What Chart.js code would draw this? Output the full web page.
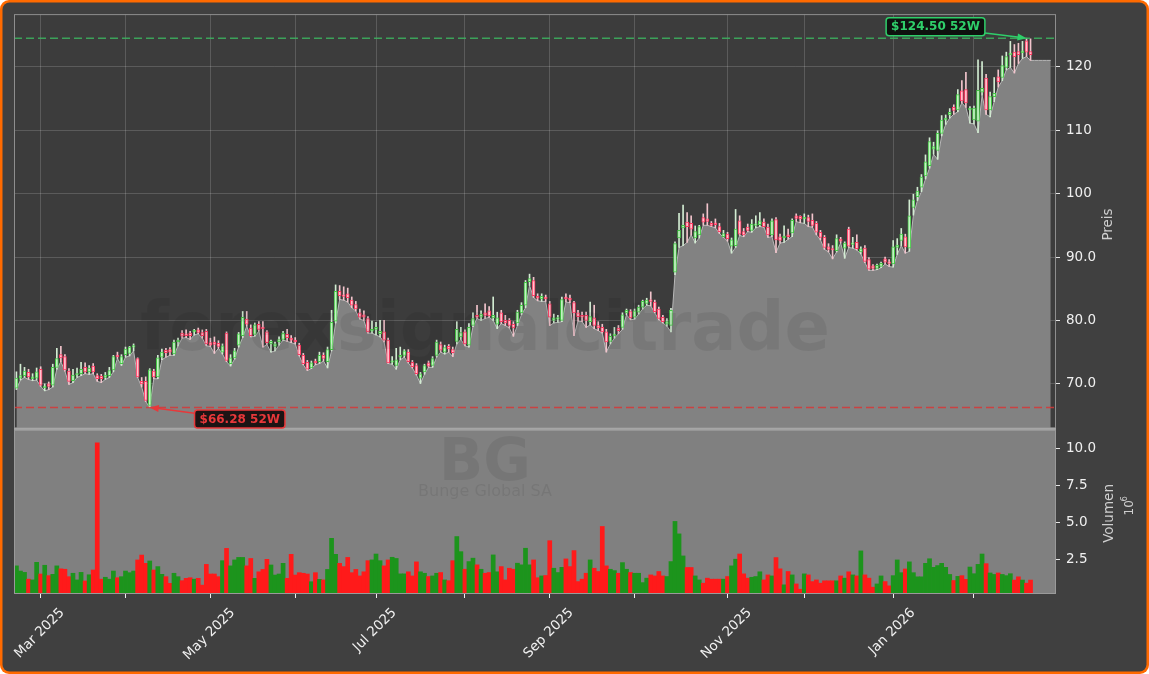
<!DOCTYPE html>
<html>
<head>
<meta charset="utf-8">
<title>BG - Bunge Global SA</title>
<script src="https://cdn.jsdelivr.net/npm/chart.js@4.4.1/dist/chart.umd.min.js"></script>
<style>
  html, body { margin: 0; padding: 0; background: #ffffff; }
  #wrap { width: 1149px; height: 674px; }
</style>
</head>
<body>
<div id="wrap"><canvas id="chart" width="1149" height="674"></canvas></div>
<script>
// daily candles, 21 Feb 2025 .. 23 Feb 2026 (x = trading day index)
const opens = [
  69.3, 70.9, 71.3, 71.8, 70.8, 70.9, 72.3, 69.4, 70.0, 69.8, 72.6, 74.6,
  74.3, 72.0, 70.5, 71.4, 71.6, 72.6, 71.9, 72.8, 71.3, 71.2, 71.0, 71.3,
  72.2, 74.5, 73.2, 74.6, 74.8, 75.8, 74.0, 70.4, 70.4, 66.6, 72.0, 71.1,
  74.2, 75.3, 75.4, 74.7, 76.6, 78.0, 77.9, 78.0, 78.2, 78.5, 78.1, 78.3,
  76.5, 76.6, 76.4, 75.0, 78.0, 73.2, 74.1, 76.1, 77.6, 80.2, 78.8, 77.8,
  79.4, 78.9, 78.2, 76.3, 75.9, 76.6, 77.0, 77.8, 77.2, 76.9, 76.1, 74.5,
  73.4, 72.5, 73.6, 73.5, 74.5, 73.5, 75.4, 79.9, 84.6, 84.0, 84.2, 83.2,
  82.5, 81.2, 80.9, 80.3, 78.3, 78.6, 77.9, 78.2, 76.9, 73.4, 72.9, 74.2,
  74.5, 75.0, 73.4, 72.9, 70.9, 71.9, 73.3, 72.9, 74.5, 76.2, 75.0, 75.9,
  75.4, 76.7, 77.4, 78.2, 76.1, 79.2, 80.8, 80.5, 81.2, 81.5, 80.4, 79.4,
  81.2, 80.0, 80.0, 79.4, 79.6, 81.2, 82.4, 86.1, 86.3, 83.8, 83.4, 83.7,
  82.6, 80.0, 80.2, 80.0, 83.7, 83.5, 82.8, 81.2, 80.8, 80.8, 79.8, 80.4,
  79.2, 78.9, 78.2, 76.7, 77.6, 78.8, 78.9, 81.2, 81.4, 80.5, 81.3, 82.1,
  82.7, 83.1, 82.9, 81.8, 80.5, 79.4, 79.2, 87.6, 93.0, 94.6, 95.5, 95.3,
  93.0, 93.5, 96.2, 96.0, 95.3, 95.4, 94.8, 93.2, 93.6, 91.7, 91.8, 95.7,
  94.0, 94.7, 94.2, 95.0, 95.1, 95.5, 94.7, 93.5, 95.9, 93.2, 93.0, 93.5,
  93.8, 96.5, 96.4, 96.0, 96.2, 95.8, 95.3, 93.9, 93.1, 91.6, 91.3, 91.0,
  92.8, 91.4, 94.4, 92.0, 92.3, 90.8, 91.4, 89.6, 88.6, 88.2, 88.5, 89.7,
  89.2, 88.9, 91.5, 92.6, 93.2, 91.4, 97.8, 99.5, 101.0, 102.8, 104.4, 107.0,
  106.8, 109.5, 111.6, 112.4, 113.6, 113.2, 116.2, 116.4, 113.2, 111.6, 111.4, 116.0,
  118.2, 113.2, 115.3, 118.4, 118.3, 119.9, 121.9, 122.3, 122.4, 122.2, 124.1, 122.4
];
const highs = [
  71.9, 73.1, 72.6, 72.3, 71.6, 72.5, 72.7, 70.0, 70.3, 73.1, 75.6, 75.9,
  74.6, 72.4, 72.3, 72.5, 73.4, 73.3, 72.9, 73.2, 71.6, 71.5, 71.8, 72.6,
  74.5, 75.0, 74.6, 75.8, 75.9, 76.3, 74.1, 71.0, 71.1, 72.4, 72.3, 74.5,
  75.5, 75.6, 75.7, 76.9, 77.2, 78.4, 78.5, 78.3, 78.6, 78.8, 78.5, 78.6,
  77.2, 77.4, 76.8, 76.3, 78.2, 74.6, 75.6, 78.1, 81.4, 81.4, 79.3, 79.6,
  79.8, 79.8, 78.4, 76.9, 76.6, 77.4, 78.3, 78.6, 77.6, 77.3, 76.4, 74.8,
  73.7, 73.6, 73.9, 75.0, 74.9, 75.8, 81.6, 85.6, 85.5, 85.3, 85.1, 83.7,
  83.0, 81.8, 81.5, 80.6, 79.9, 79.7, 80.0, 80.0, 77.2, 74.3, 75.6, 75.8,
  75.4, 75.4, 73.7, 73.2, 71.8, 73.1, 73.6, 74.3, 76.9, 76.6, 76.1, 76.2,
  75.8, 79.8, 78.9, 78.5, 79.5, 81.2, 82.4, 81.5, 82.6, 82.2, 83.7, 81.3,
  81.6, 80.8, 80.3, 79.8, 81.6, 82.8, 86.3, 87.3, 86.8, 84.2, 84.2, 84.0,
  83.0, 81.0, 80.8, 83.7, 84.2, 84.0, 83.0, 81.6, 81.3, 81.3, 82.9, 82.4,
  79.8, 79.4, 78.6, 77.9, 78.9, 79.2, 81.2, 81.8, 81.7, 81.8, 82.4, 83.2,
  83.5, 84.5, 83.2, 82.1, 80.8, 80.3, 81.9, 92.4, 96.9, 98.2, 97.0, 96.5,
  94.9, 95.0, 96.8, 98.4, 95.6, 96.0, 95.3, 94.2, 93.9, 93.0, 97.5, 96.5,
  94.5, 95.2, 95.9, 96.5, 97.0, 96.0, 95.2, 96.0, 96.2, 93.6, 94.9, 94.4,
  96.0, 96.8, 96.5, 96.8, 96.6, 96.8, 95.6, 94.2, 93.4, 92.1, 91.8, 93.5,
  93.1, 92.4, 94.7, 93.1, 93.5, 91.6, 91.8, 89.9, 88.8, 88.9, 89.2, 90.0,
  89.6, 92.6, 92.9, 94.5, 93.6, 99.0, 99.9, 101.0, 103.0, 106.1, 108.8, 108.1,
  109.9, 112.3, 112.4, 113.4, 114.0, 116.4, 117.8, 119.1, 113.7, 113.8, 121.1, 120.8,
  118.8, 116.0, 118.3, 119.5, 121.7, 122.3, 124.0, 123.5, 123.7, 124.0, 124.5, 124.4
];
const lows = [
  69.1, 70.6, 71.0, 70.7, 70.5, 70.6, 69.6, 68.9, 69.1, 69.5, 72.3, 73.5,
  72.0, 69.9, 70.2, 71.0, 71.3, 71.6, 71.5, 71.6, 70.4, 70.2, 70.7, 71.0,
  71.9, 74.0, 72.9, 74.2, 74.4, 75.2, 71.0, 69.5, 67.2, 66.28, 70.8, 70.8,
  73.8, 74.2, 74.5, 74.5, 76.0, 77.2, 77.3, 77.0, 77.7, 77.9, 77.2, 76.0,
  75.9, 74.8, 75.6, 74.7, 73.5, 72.8, 73.9, 75.8, 77.3, 79.1, 77.4, 77.5,
  78.3, 75.8, 76.2, 75.0, 75.2, 76.1, 76.9, 76.7, 76.5, 76.3, 74.4, 73.0,
  72.1, 72.4, 73.0, 73.2, 73.6, 72.5, 75.2, 79.6, 83.3, 83.2, 82.9, 82.0,
  81.5, 80.2, 80.0, 78.0, 78.0, 77.7, 77.4, 76.6, 73.2, 73.1, 72.3, 73.8,
  74.2, 73.3, 72.5, 71.4, 70.05, 71.5, 72.6, 72.6, 74.2, 75.0, 74.7, 75.0,
  74.3, 76.3, 77.0, 76.0, 75.8, 79.0, 80.3, 80.0, 80.3, 80.5, 80.0, 78.7,
  79.5, 79.2, 78.8, 77.5, 79.2, 80.9, 82.0, 85.5, 83.6, 83.1, 83.0, 83.0,
  79.2, 79.6, 79.7, 79.8, 82.9, 82.8, 77.6, 79.9, 79.8, 78.9, 79.3, 78.7,
  78.4, 78.0, 75.0, 76.3, 77.2, 77.9, 78.6, 80.9, 80.1, 80.2, 81.0, 81.8,
  82.4, 82.3, 81.2, 80.1, 79.6, 79.1, 78.2, 87.2, 91.5, 91.8, 92.3, 93.5,
  92.2, 93.0, 95.0, 95.0, 94.8, 94.6, 93.7, 93.1, 92.5, 90.6, 91.5, 93.4,
  93.2, 94.0, 93.9, 94.6, 94.8, 94.7, 93.1, 93.2, 90.7, 92.2, 92.3, 92.8,
  93.2, 95.6, 95.4, 95.3, 94.8, 94.7, 93.5, 92.7, 91.2, 90.8, 89.7, 90.8,
  92.2, 89.8, 91.5, 91.4, 91.1, 90.5, 89.1, 87.9, 87.9, 88.0, 88.3, 88.9,
  88.5, 88.4, 90.4, 91.8, 90.6, 90.9, 96.6, 98.9, 100.3, 102.3, 104.0, 106.2,
  105.4, 109.1, 110.9, 111.9, 112.5, 112.9, 114.3, 113.6, 111.1, 111.0, 109.6, 115.5,
  112.5, 112.1, 114.5, 116.8, 117.8, 119.5, 119.9, 119.0, 120.5, 121.3, 121.6, 121.0
];
const closes = [
  70.9, 71.3, 72.0, 71.1, 71.1, 71.9, 69.8, 69.6, 69.6, 72.6, 74.0, 74.1,
  72.2, 70.4, 71.4, 71.6, 72.3, 71.9, 72.5, 71.9, 70.8, 70.8, 71.4, 72.1,
  74.3, 74.3, 74.3, 75.5, 75.8, 76.0, 71.1, 70.0, 67.4, 72.2, 71.1, 74.1,
  75.0, 74.9, 75.0, 76.6, 76.9, 77.5, 77.6, 77.6, 78.4, 78.1, 77.6, 76.3,
  76.1, 76.2, 75.9, 76.0, 73.7, 74.1, 75.2, 77.9, 80.5, 79.4, 77.6, 79.3,
  78.6, 78.7, 76.5, 76.7, 76.3, 77.0, 78.0, 77.3, 76.9, 76.6, 74.6, 73.2,
  72.3, 73.3, 73.3, 74.5, 74.0, 75.4, 79.7, 84.6, 83.9, 83.8, 83.6, 82.4,
  81.8, 80.5, 80.5, 78.2, 78.6, 78.9, 78.3, 76.9, 73.3, 73.6, 73.8, 74.5,
  75.2, 73.5, 72.7, 71.6, 71.6, 72.9, 72.8, 74.0, 76.6, 75.3, 75.7, 75.5,
  74.9, 78.6, 78.1, 76.3, 78.9, 80.3, 80.5, 81.0, 80.8, 80.7, 80.8, 80.4,
  79.8, 79.6, 79.2, 78.8, 81.3, 82.4, 86.0, 86.6, 83.9, 83.5, 83.8, 83.4,
  80.5, 80.4, 80.4, 83.3, 83.4, 83.2, 81.2, 80.6, 80.5, 80.0, 80.6, 79.2,
  78.8, 78.2, 76.6, 77.5, 77.8, 78.4, 80.9, 81.6, 80.4, 81.5, 82.1, 83.0,
  83.2, 83.0, 81.4, 80.3, 79.8, 79.8, 81.6, 92.1, 94.2, 95.0, 94.8, 94.4,
  94.0, 94.8, 95.5, 95.6, 95.0, 95.1, 94.0, 93.7, 92.9, 92.7, 94.4, 93.6,
  93.5, 94.2, 95.2, 95.1, 95.7, 94.8, 93.5, 95.7, 92.7, 92.6, 93.3, 93.2,
  95.8, 96.1, 96.0, 96.2, 95.6, 95.0, 93.9, 93.1, 91.5, 91.2, 91.1, 92.9,
  92.5, 92.2, 91.7, 92.2, 91.3, 91.3, 89.3, 88.1, 88.2, 88.7, 89.0, 89.2,
  89.0, 91.6, 91.9, 93.6, 91.6, 96.5, 99.0, 100.4, 102.6, 105.0, 108.2, 107.4,
  109.5, 111.6, 111.9, 112.8, 113.1, 115.6, 114.6, 114.3, 113.4, 113.5, 116.3, 116.6,
  113.2, 115.3, 115.8, 117.6, 120.2, 121.6, 122.0, 121.6, 121.9, 122.5, 122.3, 121.9
];
// volume in millions of shares
const volumes = [
  2.1, 1.75, 1.66, 1.2, 1.15, 2.34, 1.55, 2.14, 1.44, 1.53, 2.1, 1.9,
  1.87, 1.37, 1.6, 1.15, 1.66, 1.08, 1.5, 1.82, 10.4, 1.2, 1.33, 1.2,
  1.75, 1.3, 1.37, 1.75, 1.64, 1.75, 2.5, 2.83, 2.27, 2.43, 1.82, 2.05,
  1.53, 1.37, 0.92, 1.6, 1.37, 1.1, 1.26, 1.3, 1.2, 1.26, 0.8, 2.2,
  1.55, 1.55, 1.37, 2.45, 3.28, 2.1, 2.5, 2.67, 2.67, 2.1, 2.6, 1.26,
  1.7, 1.86, 2.54, 2.16, 1.48, 1.55, 2.27, 1.26, 2.88, 1.48, 1.64, 1.6,
  1.55, 1.03, 1.64, 1.19, 1.15, 1.86, 3.96, 2.88, 2.27, 2.05, 2.67, 1.64,
  1.86, 1.42, 1.7, 2.45, 2.5, 2.9, 2.45, 2.1, 2.5, 2.68, 2.6, 1.56,
  1.56, 1.7, 1.42, 2.37, 1.7, 1.6, 1.38, 1.42, 1.6, 1.65, 1.15, 1.1,
  2.45, 4.08, 3.06, 1.87, 2.39, 2.62, 2.17, 1.87, 1.6, 1.65, 2.84, 1.7,
  2.05, 1.15, 1.94, 1.87, 2.28, 2.17, 3.29, 2.17, 2.5, 1.3, 1.42, 1.45,
  3.8, 1.94, 1.65, 2.0, 2.57, 2.05, 3.13, 1.04, 1.2, 1.6, 2.5, 1.94,
  1.72, 4.76, 2.1, 1.87, 1.78, 1.6, 2.32, 1.87, 1.65, 1.6, 1.6, 0.97,
  1.27, 1.49, 1.42, 1.72, 1.42, 1.38, 2.39, 5.1, 4.26, 2.77, 1.99, 1.99,
  1.42, 1.15, 0.93, 1.27, 1.2, 1.2, 1.2, 1.2, 1.38, 2.1, 2.55, 2.9,
  1.56, 1.27, 1.33, 1.38, 1.7, 1.15, 1.49, 1.42, 2.66, 1.9, 0.82, 1.72,
  1.49, 0.88, 0.52, 1.56, 1.49, 1.04, 1.15, 0.93, 1.09, 1.09, 1.09, 1.09,
  1.42, 1.27, 1.7, 1.49, 1.42, 3.11, 1.49, 1.27, 0.66, 0.88, 1.42, 1.04,
  0.75, 1.44, 2.5, 1.64, 1.89, 2.37, 1.64, 1.36, 1.36, 2.27, 2.58, 2.0,
  2.12, 2.27, 2.0, 1.52, 1.11, 1.39, 1.44, 1.19, 2.02, 1.57, 2.2, 2.9,
  2.25, 1.62, 1.52, 1.62, 1.52, 1.44, 1.57, 1.14, 1.36, 1.14, 0.93, 1.14
];
// the shaded area runs on a few slots past the last candle
const areaTail = [121.0, 121.0, 121.0, 121.0, 121.0];

// first trading day of each month, and the labels shown under them
const tickIndex = [6, 27, 48, 69, 89, 111, 132, 153, 176, 195, 217, 237];
const tickLabels = ['Mar 2025', '', 'May 2025', '', 'Jul 2025', '', 'Sep 2025', '', 'Nov 2025', '', 'Jan 2026', ''];

const ticker = 'BG';
const company = 'Bunge Global SA';
const brand = 'forexsignalcitrade';

const FONT = '"DejaVu Sans", "Liberation Sans", sans-serif';

var up = closes.map((c, i) => c >= opens[i]);

var wickData = lows.map((l, i) => ({ x: i, y: [l, highs[i]] }));
var bodyData = opens.map((o, i) => ({ x: i, y: [Math.min(o, closes[i]), Math.max(o, closes[i])] }));
var volData = volumes.map((v, i) => ({ x: i, y: v }));
var areaData = lows.concat(areaTail).map((v, i) => ({ x: i, y: v }));

var hi52 = Math.max.apply(null, highs);
var lo52 = Math.min.apply(null, lows);
var hiIdx = highs.indexOf(hi52);
var loIdx = lows.indexOf(lo52);

function tag(ctx, text, cx, cy, px, py, col, fill) {
	ctx.save();
	ctx.font = 'bold 12px ' + FONT;
	var w = ctx.measureText(text).width + 10;
	var h = 18;
	var x0 = cx - w / 2, y0 = cy - h / 2;

	// arrow from box edge to point
	var dx = px - cx, dy = py - cy;
	var t = Math.min((w / 2) / Math.abs(dx || 1e-6), (h / 2) / Math.abs(dy || 1e-6));
	var sx = cx + dx * t, sy = cy + dy * t;
	var ang = Math.atan2(py - sy, px - sx);
	var hl = 9;
	ctx.strokeStyle = col;
	ctx.fillStyle = col;
	ctx.lineWidth = 1.5;
	ctx.beginPath();
	ctx.moveTo(sx, sy);
	ctx.lineTo(px - Math.cos(ang) * hl * 0.8, py - Math.sin(ang) * hl * 0.8);
	ctx.stroke();
	ctx.beginPath();
	ctx.moveTo(px, py);
	ctx.lineTo(px - Math.cos(ang) * hl + Math.sin(ang) * 3.5, py - Math.sin(ang) * hl - Math.cos(ang) * 3.5);
	ctx.lineTo(px - Math.cos(ang) * hl - Math.sin(ang) * 3.5, py - Math.sin(ang) * hl + Math.cos(ang) * 3.5);
	ctx.closePath();
	ctx.fill();

	ctx.beginPath();
	ctx.roundRect(x0, y0, w, h, 3);
	ctx.fillStyle = fill;
	ctx.fill();
	ctx.lineWidth = 1.5;
	ctx.strokeStyle = col;
	ctx.stroke();
	ctx.fillStyle = col;
	ctx.textAlign = 'center';
	ctx.textBaseline = 'middle';
	ctx.fillText(text, cx, cy + 0.5);
	ctx.restore();
}

const panels = {
	id: 'panels',
	beforeDraw(chart) {
		const ctx = chart.ctx;
		const a = chart.chartArea;
		const y = chart.scales.y;
		ctx.save();
		ctx.fillStyle = '#ffffff';
		ctx.fillRect(0, 0, chart.width, chart.height);
		ctx.beginPath();
		ctx.roundRect(0, 0, chart.width, chart.height, 9);
		ctx.fillStyle = '#ff6a00';
		ctx.fill();
		ctx.beginPath();
		ctx.roundRect(2.5, 2.5, chart.width - 5, chart.height - 5, 7);
		ctx.fillStyle = '#404040';
		ctx.fill();
		ctx.fillStyle = '#3c3c3c';
		ctx.fillRect(a.left, y.top, a.right - a.left, y.bottom - y.top);
		ctx.restore();
	},
	beforeDatasetsDraw(chart) {
		const ctx = chart.ctx;
		const a = chart.chartArea;
		const yv = chart.scales.yv;
		ctx.save();
		ctx.fillStyle = '#808080';
		ctx.fillRect(a.left, yv.top, a.right - a.left, yv.bottom - yv.top);
		ctx.restore();
	},
	afterDatasetsDraw(chart) {
		const ctx = chart.ctx;
		const a = chart.chartArea;
		const x = chart.scales.x;
		const y = chart.scales.y;
		const yv = chart.scales.yv;
		const midX = (a.left + a.right) / 2 - 50;

		ctx.save();
		// watermarks
		ctx.fillStyle = 'rgba(0,0,0,0.07)';
		ctx.textAlign = 'center';
		ctx.textBaseline = 'alphabetic';
		ctx.font = 'bold 67px ' + FONT;
		ctx.fillText(brand, midX, 350);
		ctx.fillStyle = 'rgba(0,0,0,0.08)';
		ctx.font = 'bold 58px ' + FONT;
		ctx.fillText(ticker, midX, yv.top + 51);
		ctx.font = '16px ' + FONT;
		ctx.fillText(company, midX, yv.top + 67);

		// 52 week lines
		ctx.lineWidth = 1.5;
		ctx.setLineDash([8, 4]);
		ctx.strokeStyle = 'rgba(60,180,95,0.85)';
		var yh = y.getPixelForValue(hi52);
		ctx.beginPath(); ctx.moveTo(a.left, yh); ctx.lineTo(a.right, yh); ctx.stroke();
		ctx.strokeStyle = 'rgba(215,55,55,0.85)';
		var yl = y.getPixelForValue(lo52);
		ctx.beginPath(); ctx.moveTo(a.left, yl); ctx.lineTo(a.right, yl); ctx.stroke();
		ctx.setLineDash([]);

		// panel frames
		ctx.lineWidth = 1;
		ctx.strokeStyle = '#8e8e8e';
		ctx.strokeRect(a.left + 0.5, y.top + 0.5, a.right - a.left - 1, y.bottom - y.top - 1.5);
		ctx.strokeStyle = '#9a9a9a';
		ctx.strokeRect(a.left + 0.5, yv.top + 1.5, a.right - a.left - 1, yv.bottom - yv.top - 2);
		ctx.fillStyle = '#a6a6a6';
		ctx.fillRect(a.left, y.bottom - 1, a.right - a.left, 2);
		ctx.restore();

		tag(ctx, '$' + hi52.toFixed(2) + ' 52W', x.getPixelForValue(hiIdx) - 91, yh - 11.5,
			x.getPixelForValue(hiIdx), yh, '#2fcf6a', 'rgba(12,16,13,0.95)');
		tag(ctx, '$' + lo52.toFixed(2) + ' 52W', x.getPixelForValue(loIdx) + 90, yl + 11.5,
			x.getPixelForValue(loIdx), yl, '#e8383a', 'rgba(22,14,14,0.95)');
	},
	afterDraw(chart) {
		const ctx = chart.ctx;
		const x = chart.scales.x;
		const y = chart.scales.y;
		const yv = chart.scales.yv;
		ctx.save();
		// rotated month labels centred under their ticks
		ctx.font = '13.5px ' + FONT;
		ctx.fillStyle = '#f0f0f0';
		ctx.textAlign = 'center';
		ctx.textBaseline = 'middle';
		x.ticks.forEach(function (t) {
			if (!t.label) return;
			var px = x.getPixelForValue(t.value) - 1;
			var w = ctx.measureText(t.label).width;
			var cy = x.top + 12 + (w + 13) * 0.3536;
			ctx.save();
			ctx.translate(px, cy);
			ctx.rotate(-Math.PI / 4);
			ctx.fillText(t.label, 0, 0);
			ctx.restore();
		});

		// axis titles
		ctx.fillStyle = '#cfcfcf';
		ctx.font = '13.5px ' + FONT;
		ctx.save();
		ctx.translate(1108, (y.top + y.bottom) / 2 + 3);
		ctx.rotate(-Math.PI / 2);
		ctx.fillText('Preis', 0, 0);
		ctx.restore();
		ctx.save();
		ctx.translate(1109, (yv.top + yv.bottom) / 2 + 2);
		ctx.rotate(-Math.PI / 2);
		ctx.fillText('Volumen', 0, 0);
		ctx.restore();
		ctx.save();
		ctx.translate(1130, (yv.top + yv.bottom) / 2 - 5);
		ctx.rotate(-Math.PI / 2);
		ctx.textAlign = 'left';
		ctx.font = '12px ' + FONT;
		ctx.fillText('10', -9, 0);
		ctx.font = '8.5px ' + FONT;
		ctx.fillText('6', 5, -5);
		ctx.restore();
		ctx.restore();
	}
};

var tickFont = { family: FONT, size: 13.5 };

new Chart(document.getElementById('chart'), {
	type: 'bar',
	data: {
		datasets: [{
			type: 'line',
			label: 'area',
			data: areaData,
			yAxisID: 'y',
			fill: 'start',
			backgroundColor: '#828282',
			borderColor: '#b8b8b8',
			borderWidth: 1,
			pointRadius: 0,
			tension: 0,
			order: 5
		}, {
			label: 'volume',
			data: volData,
			yAxisID: 'yv',
			backgroundColor: up.map(u => u ? '#1c941c' : '#ff1a1a'),
			borderWidth: 0,
			barPercentage: 1,
			categoryPercentage: 1,
			grouped: false,
			order: 4
		}, {
			label: 'wick',
			data: wickData,
			yAxisID: 'y',
			backgroundColor: up.map(u => u ? '#d2ecd2' : '#f2c4cc'),
			borderWidth: 0,
			barThickness: 1,
			grouped: false,
			order: 3
		}, {
			label: 'body',
			data: bodyData,
			yAxisID: 'y',
			backgroundColor: up.map(u => u ? '#c6f2c6' : '#ffc4cf'),
			borderColor: up.map(u => u ? '#45c845' : '#ff3a62'),
			borderWidth: 1,
			borderSkipped: false,
			barThickness: 3,
			minBarLength: 1.5,
			grouped: false,
			order: 1
		}]
	},
	options: {
		responsive: false,
		devicePixelRatio: 1,
		animation: false,
		layout: { padding: { left: 14, top: 11, right: 0, bottom: 0 } },
		plugins: {
			legend: { display: false },
			tooltip: { enabled: false }
		},
		scales: {
			x: {
				type: 'linear',
				offset: false,
				min: -0.6,
				max: 257.3,
				afterBuildTicks: function (s) {
					s.ticks = tickIndex.map(v => ({ value: v }));
				},
				ticks: {
					display: false,
					callback: function (v) { return tickLabels[tickIndex.indexOf(v)]; }
				},
				grid: {
					offset: false,
					color: 'rgba(255,255,255,0.16)',
					drawTicks: true,
					tickLength: 4,
					tickColor: '#f0f0f0'
				},
				border: { display: false },
				afterFit: function (s) { s.height = 80; }
			},
			y: {
				type: 'linear',
				position: 'right',
				stack: 'panels',
				stackWeight: 417,
				min: 62.9,
				max: 128.3,
				ticks: {
					stepSize: 10,
					includeBounds: false,
					color: '#f0f0f0',
					font: tickFont,
					padding: 6,
					callback: v => v >= 100 ? v.toFixed(0) : v.toFixed(1)
				},
				grid: {
					color: 'rgba(255,255,255,0.16)',
					drawTicks: true,
					tickLength: 4,
					tickColor: '#e6e6e6'
				},
				border: { display: false },
				afterFit: function (s) { s.width = 93; }
			},
			yv: {
				type: 'linear',
				position: 'right',
				stack: 'panels',
				stackWeight: 166,
				min: 0.2,
				max: 11.35,
				ticks: {
					stepSize: 2.5,
					includeBounds: false,
					color: '#f0f0f0',
					font: tickFont,
					padding: 6,
					callback: v => v.toFixed(1)
				},
				grid: {
					drawOnChartArea: false,
					drawTicks: true,
					tickLength: 4,
					tickColor: '#e6e6e6'
				},
				border: { display: false },
				afterFit: function (s) { s.width = 93; }
			}
		}
	},
	plugins: [panels]
});
</script>
</body>
</html>
